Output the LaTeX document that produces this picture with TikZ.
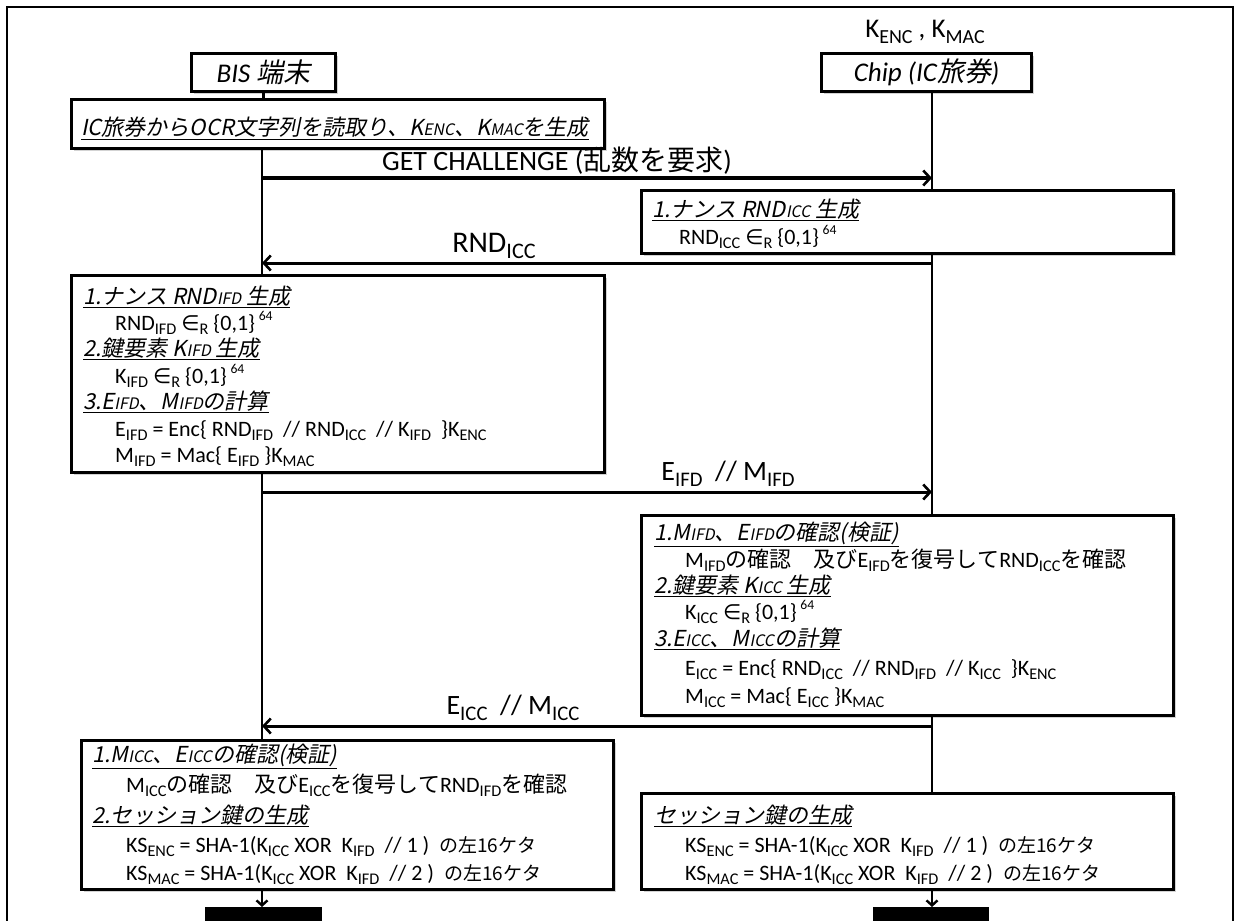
\documentclass[tikz,border=0pt]{standalone}
\usepackage{fontspec}
\setmainfont{Carlito}
\newfontfamily\jpf{Noto Sans CJK JP}
\newfontfamily\jpif{Noto Sans CJK JP}[FakeSlant=0.2]
\newfontfamily\symf{DejaVu Sans}
\usepackage{graphicx}
\usetikzlibrary{arrows.meta,shadows}
\newcommand\J[1]{{\jpf #1}}
\newcommand\JI[1]{{\jpif #1}}
\newcommand\sm[1]{\scalebox{0.72}{#1}}
\newcommand\sbb[1]{\raisebox{-0.22em}{\scalebox{0.74}{#1}}}
\newcommand\spp[1]{\raisebox{0.45em}{\scalebox{0.62}{#1}}}
\newcommand\inR{\ {\symf\scalebox{0.95}{∈}}\sbb{R}\ }
\newcommand\hd[1]{\underline{\JI{#1}}}
\newcommand\hidari{{\jpf\fontsize{19}{22}\selectfont の左16ケタ}}
\begin{document}
\begin{tikzpicture}[x=1pt,y=-1pt,
  box/.style={draw,line width=3pt,fill=white,inner sep=0pt,anchor=north west,
     drop shadow={shadow xshift=2.5pt,shadow yshift=-2.5pt,opacity=0.35,fill=gray}},
  life/.style={line width=2.8pt},
  msg/.style={line width=3pt,-{Straight Barb[length=7pt,width=15pt,line width=2.6pt]}},
  down/.style={line width=2.8pt,-{Straight Barb[length=5pt,width=11pt,line width=2.4pt]}},
  lbl/.style={inner sep=0pt,font=\fontsize{28}{32}\selectfont},
  txt/.style={inner sep=0pt,anchor=base west,font=\fontsize{22}{26}\selectfont},
  bar/.style={fill=black,inner sep=0pt,anchor=north west}]
\useasboundingbox (0,0) rectangle (1238,920);
\node[draw,line width=2pt,inner sep=0pt,anchor=north west,minimum width=1226pt,minimum height=940pt] (frame) at (6,6) {};

% participants
\node[lbl,font=\fontsize{27}{30}\selectfont] (keys) at (925,32) {K\sbb{ENC} , K\sbb{MAC}};
\node[box,minimum width=144pt,minimum height=38pt,font=\fontsize{27}{30}\selectfont\itshape] (bis) at (190,52) {BIS \JI{端末}};
\node[box,minimum width=210pt,minimum height=38pt,font=\fontsize{27}{30}\selectfont\itshape] (chip) at (820,52) {Chip (IC\JI{旅券})};
\coordinate (L) at (262,0);
\coordinate (R) at (932,0);

% header box
\node[box,minimum width=533pt,minimum height=49pt] (hdr) at (70,98) {};
\node[txt] (hdrt) at (81,136) {\hd{IC旅券からOCR文字列を読取り、K\sm{ENC}、K\sm{MAC}を生成}};

% box RND ICC
\node[box,minimum width=532pt,minimum height=63pt] (b1) at (640,189) {};
\node[txt] (b1a) at (652,217) {\hd{1.ナンス RND\sm{ICC} 生成}};
\node[txt] (b1b) at (679,244) {RND\sbb{ICC}\inR\{0,1\}\,\spp{64}};

% left box
\node[box,minimum width=533pt,minimum height=197pt] (lb1) at (70,274) {};
\node[txt] (l1) at (83,304) {\hd{1.ナンス RND\sm{IFD} 生成}};
\node[txt] (l2) at (115,330) {RND\sbb{IFD}\inR\{0,1\}\,\spp{64}};
\node[txt] (l3) at (83,356) {\hd{2.鍵要素 K\sm{IFD} 生成}};
\node[txt] (l4) at (115,383) {K\sbb{IFD}\inR\{0,1\}\,\spp{64}};
\node[txt] (l5) at (83,409) {\hd{3.E\sm{IFD}、M\sm{IFD}の計算}};
\node[txt] (l6) at (115,436) {E\sbb{IFD} = Enc\{ RND\sbb{IFD} \ // RND\sbb{ICC} \ // K\sbb{IFD} \ \}K\sbb{ENC}};
\node[txt] (l7) at (115,462) {M\sbb{IFD} = Mac\{ E\sbb{IFD} \}K\sbb{MAC}};

% right middle box
\node[box,minimum width=532pt,minimum height=200pt] (rb2) at (640,514) {};
\node[txt] (r1) at (654,540) {\hd{1.M\sm{IFD}、E\sm{IFD}の確認(検証)}};
\node[txt] (r2) at (685,567) {M\sbb{IFD}\J{の確認　及び}E\sbb{IFD}\J{を復号して}RND\sbb{ICC}\J{を確認}};
\node[txt] (r3) at (654,593) {\hd{2.鍵要素 K\sm{ICC} 生成}};
\node[txt] (r4) at (685,619) {K\sbb{ICC}\inR\{0,1\}\,\spp{64}};
\node[txt] (r5) at (654,646) {\hd{3.E\sm{ICC}、M\sm{ICC}の計算}};
\node[txt] (r6) at (685,675) {E\sbb{ICC} = Enc\{ RND\sbb{ICC} \ // RND\sbb{IFD} \ // K\sbb{ICC} \ \}K\sbb{ENC}};
\node[txt] (r7) at (685,703) {M\sbb{ICC} = Mac\{ E\sbb{ICC} \}K\sbb{MAC}};

% left bottom box
\node[box,minimum width=532pt,minimum height=149pt] (lb2) at (80,739) {};
\node[txt] (p1) at (92,762) {\hd{1.M\sm{ICC}、E\sm{ICC}の確認(検証)}};
\node[txt] (p2) at (126,792) {M\sbb{ICC}\J{の確認　及び}E\sbb{ICC}\J{を復号して}RND\sbb{IFD}\J{を確認}};
\node[txt] (p3) at (92,823) {\hd{2.セッション鍵の生成}};
\node[txt] (p4) at (126,852) {KS\sbb{ENC} = SHA-1(K\sbb{ICC} XOR\ \ K\sbb{IFD} \ // 1 )\ \ \hidari};
\node[txt] (p5) at (126,880) {KS\sbb{MAC} = SHA-1(K\sbb{ICC} XOR\ \ K\sbb{IFD} \ // 2 )\ \ \hidari};

% right bottom box
\node[box,minimum width=532pt,minimum height=96pt] (rb3) at (640,792) {};
\node[txt] (q1) at (654,823) {\hd{セッション鍵の生成}};
\node[txt] (q2) at (685,852) {KS\sbb{ENC} = SHA-1(K\sbb{ICC} XOR\ \ K\sbb{IFD} \ // 1 )\ \ \hidari};
\node[txt] (q3) at (685,880) {KS\sbb{MAC} = SHA-1(K\sbb{ICC} XOR\ \ K\sbb{IFD} \ // 2 )\ \ \hidari};

% end bars
\node[bar,minimum width=117pt,minimum height=20pt] (barL) at (205,907) {};
\node[bar,minimum width=116pt,minimum height=20pt] (barR) at (873,907) {};

% lifelines
\draw[life] (bis.south) -- (bis.south |- hdr.north);
\draw[life] (hdr.south -| L) -- (lb1.north -| L);
\draw[life] (lb1.south -| L) -- (lb2.north -| L);
\draw[down] (lb2.south -| L) -- (barL.north -| L);
\draw[life] (chip.south -| R) -- (b1.north -| R);
\draw[life] (b1.south -| R) -- (rb2.north -| R);
\draw[life] (rb2.south -| R) -- (rb3.north -| R);
\draw[down] (rb3.south -| R) -- (barR.north -| R);

% messages
\coordinate (m1a) at (262,178); \coordinate (m1b) at (932,178);
\draw[msg] (m1a) -- (m1b);
\node[lbl] (m1t) at (557,161) {GET CHALLENGE (\J{乱数を要求})};
\coordinate (m2a) at (932,263); \coordinate (m2b) at (262,263);
\draw[msg] (m2a) -- (m2b);
\node[lbl,font=\fontsize{30}{34}\selectfont] (m2t) at (494,246) {RND\sbb{ICC}};
\coordinate (m3a) at (262,492); \coordinate (m3b) at (932,492);
\draw[msg] (m3a) -- (m3b);
\node[lbl] (m3t) at (728,474) {E\sbb{IFD} \ // M\sbb{IFD}};
\coordinate (m4a) at (932,726); \coordinate (m4b) at (262,726);
\draw[msg] (m4a) -- (m4b);
\node[lbl] (m4t) at (513,708) {E\sbb{ICC} \ // M\sbb{ICC}};
\end{tikzpicture}
\end{document}
